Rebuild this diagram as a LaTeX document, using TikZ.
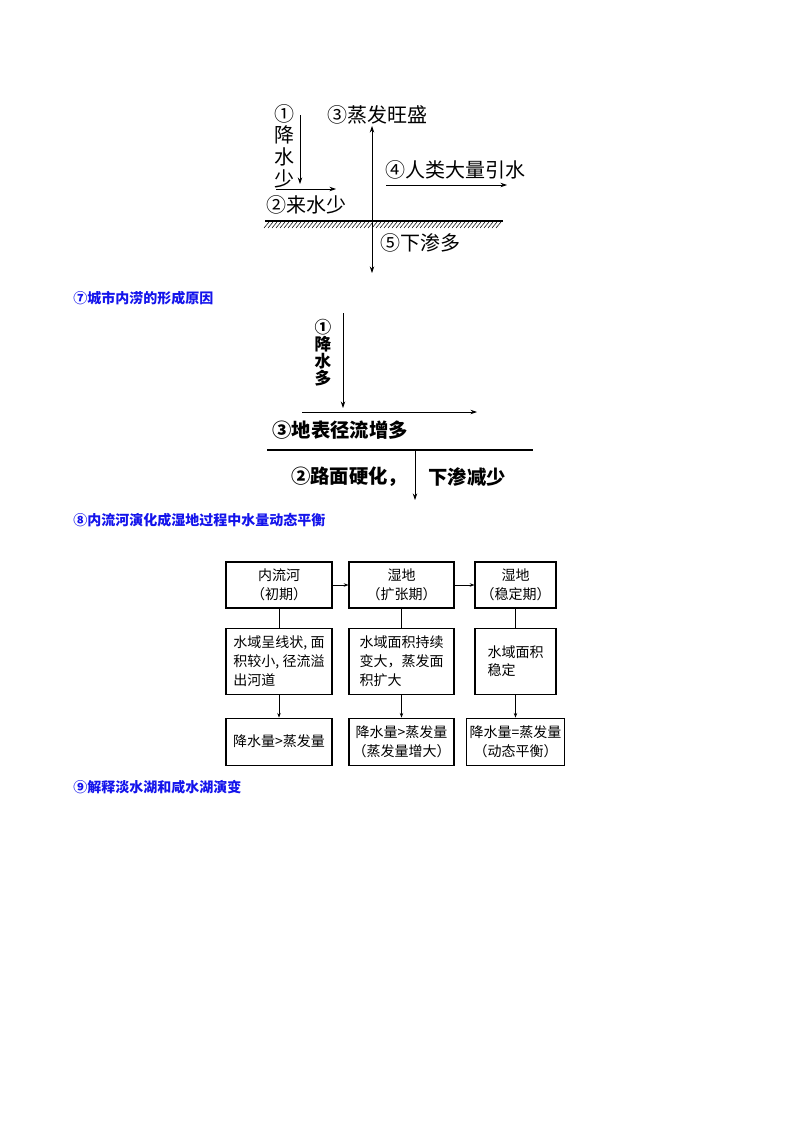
\documentclass[tikz,border=0pt]{standalone}
\usepackage{fontspec}
\usepackage{tikz}
\usetikzlibrary{arrows.meta, positioning}
\newfontfamily\cjk{Noto Sans CJK SC}
\definecolor{headblue}{RGB}{20,20,235}

\begin{document}
\begin{tikzpicture}[x=0.75pt,y=-0.75pt,every node/.style={font=\cjk,inner sep=0pt},
    flow/.style={-{Stealth[length=5pt,width=3.4pt]},line width=0.6pt},
    small flow/.style={-{Stealth[length=3.5pt,width=2.6pt]},line width=0.5pt},
    bigtxt/.style={font=\cjk\fontsize{15pt}{16.3pt}\selectfont,align=center},
    boldtxt/.style={font=\cjk\bfseries\fontsize{14.5pt}{12.8pt}\selectfont,align=center},
    box/.style={draw,line width=0.8pt,align=left,font=\cjk\fontsize{10.5pt}{14pt}\selectfont},
    heading/.style={anchor=west,text=headblue,font=\cjk\bfseries\fontsize{10.5pt}{12pt}\selectfont}]
    \useasboundingbox (0,0) rectangle (800,1132);

    % sketch 1: water balance
    \node[bigtxt] (rainLow) at (284,146) {①\\降\\水\\少};
    \coordinate (rainTop) at (300,115);
    \coordinate (rainEnd) at (300,184);
    \draw[flow] (rainTop) -- (rainEnd);
    \coordinate (inflowStart) at (276,189);
    \coordinate (inflowEnd) at (336,189);
    \draw[flow] (inflowStart) -- (inflowEnd);
    \node[bigtxt] (inflowLow) at (306,205) {②来水少};
    \node[bigtxt] (evapHigh) at (377,115) {③蒸发旺盛};
    \coordinate (evapTop) at (372,126);
    \coordinate (seepEnd) at (372,273);
    \draw[{Stealth[length=5pt,width=3.4pt]}-{Stealth[length=5pt,width=3.4pt]},line width=0.6pt] (evapTop) -- (seepEnd);
    \node[bigtxt] (divert) at (455,170) {④人类大量引水};
    \coordinate (divertStart) at (386,185);
    \coordinate (divertEnd) at (507,185);
    \draw[flow] (divertStart) -- (divertEnd);
    \coordinate (groundL) at (265,221);
    \coordinate (groundR) at (503,221);
    \draw[line width=0.8pt] (groundL) -- (groundR);
    \foreach \x in {269,273,...,503} {
        \draw[line width=0.4pt] (\x,222) -- (\x-5,228);
    }
    \node[bigtxt] (seepMore) at (420,243) {⑤下渗多};

    \node[heading] (headSeven) at (73,298) {⑦城市内涝的形成原因};

    % sketch 2: urban waterlogging
    \node[boldtxt,font=\cjk\bfseries\fontsize{12.5pt}{12.8pt}\selectfont] (rainMore) at (323,353) {①\\降\\水\\多};
    \coordinate (rainTwoTop) at (343,313);
    \coordinate (rainTwoEnd) at (343,408);
    \draw[flow] (rainTwoTop) -- (rainTwoEnd);
    \coordinate (runoffStart) at (302,412);
    \coordinate (runoffEnd) at (477,412);
    \draw[flow] (runoffStart) -- (runoffEnd);
    \node[boldtxt] (runoff) at (340,430) {③地表径流增多};
    \coordinate (roadL) at (267,450);
    \coordinate (roadR) at (533,450);
    \draw[line width=0.8pt] (roadL) -- (roadR);
    \coordinate (seepTop) at (415,450);
    \coordinate (seepTwoEnd) at (415,500);
    \draw[flow] (seepTop) -- (seepTwoEnd);
    \node[boldtxt] (hardRoad) at (349,477) {②路面硬化，};
    \node[boldtxt] (seepLess) at (467,477) {下渗减少};

    \node[heading] (headEight) at (73,520) {⑧内流河演化成湿地过程中水量动态平衡};

    % sketch 3: river to wetland
    \node[box,align=center,minimum width=79.5pt,minimum height=34.5pt] (early) at (279,585) {内流河\\（初期）};
    \node[box,align=center,minimum width=78.75pt,minimum height=34.5pt] (grow) at (401.5,585) {湿地\\（扩张期）};
    \node[box,align=center,minimum width=60.75pt,minimum height=34.5pt] (stable) at (515.5,585) {湿地\\（稳定期）};
    \node[box,minimum width=79.5pt,minimum height=49.5pt,below=14.25pt of early] (earlyState) {水域呈线状, 面\\积较小, 径流溢\\出河道};
    \node[box,minimum width=78.75pt,minimum height=49.5pt,below=14.25pt of grow] (growState) {水域面积持续\\变大，蒸发面\\积扩大};
    \node[box,minimum width=60.75pt,minimum height=49.5pt,below=14.25pt of stable] (stableState) {水域面积\\稳定};
    \node[box,align=center,minimum width=79.5pt,minimum height=35.25pt,below=17.25pt of earlyState] (earlyBal) {降水量>蒸发量};
    \node[box,align=center,minimum width=78.75pt,minimum height=35.25pt,below=17.25pt of growState] (growBal) {降水量>蒸发量\\（蒸发量增大）};
    \node[box,align=center,minimum width=73.5pt,minimum height=35.25pt,below=17.25pt of stableState] (stableBal) {降水量=蒸发量\\（动态平衡）};
    \draw[small flow] (early) -- (grow);
    \draw[small flow] (grow) -- (stable);
    \foreach \n in {early,grow,stable} {
        \draw[line width=0.5pt] (\n.south) -- (\n State.north);
        \draw[small flow] (\n State.south) -- (\n Bal.north);
    }

    \node[heading] (headNine) at (73,787) {⑨解释淡水湖和咸水湖演变};
\end{tikzpicture}
\end{document}
